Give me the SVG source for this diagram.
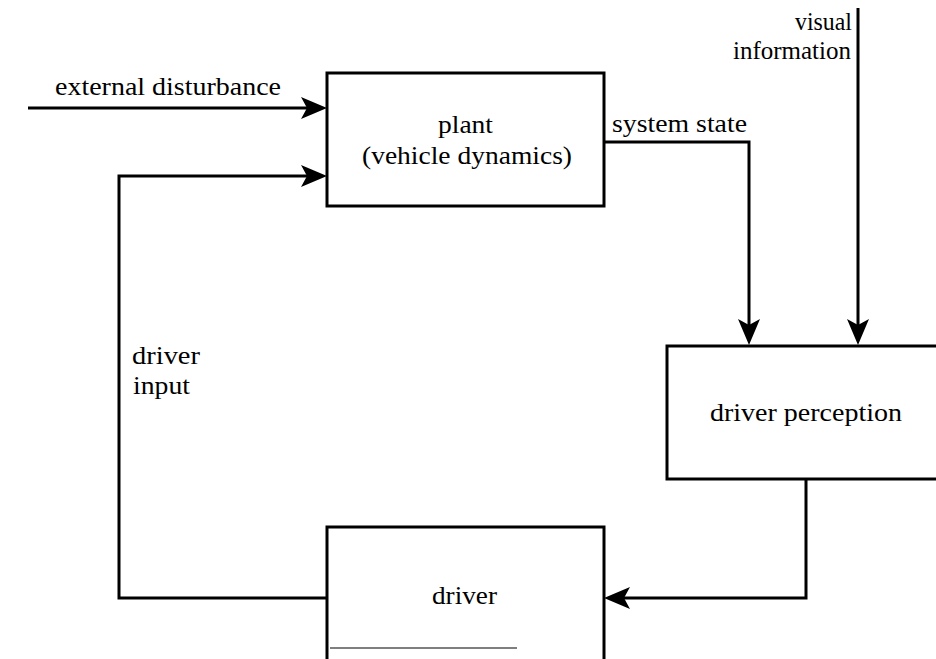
<svg xmlns="http://www.w3.org/2000/svg" width="936" height="659" viewBox="0 0 936 659">
<style>
  .box { fill: #fff; stroke: #000; stroke-width: 3; }
  .conn { fill: none; stroke: #000; stroke-width: 3; stroke-linejoin: miter; }
  .lbl { font-family: "Liberation Serif", "Times New Roman", serif; font-size: 25px; fill: #000; }
</style>
<defs>
  <marker id="arr" markerUnits="userSpaceOnUse" markerWidth="28" markerHeight="24" refX="13" refY="11" orient="auto" overflow="visible">
    <path d="M0,0 L26,11 L0,22 L6,11 Z" fill="#000"/>
  </marker>
</defs>
<rect width="936" height="659" fill="#fff"/>

<g id="connectors">
  <path class="conn" d="M28,108 H314" marker-end="url(#arr)"/>
  <path class="conn" d="M327,598 H119 V176 H314" marker-end="url(#arr)"/>
  <path class="conn" d="M604,142 H749 V332" marker-end="url(#arr)"/>
  <path class="conn" d="M858,8 V332" marker-end="url(#arr)"/>
  <path class="conn" d="M806,479 V598 H617" marker-end="url(#arr)"/>
</g>

<g id="plant">
  <rect class="box" x="327" y="73" width="277" height="133"/>
  <text class="lbl" x="465.5" y="133" text-anchor="middle" textLength="55" lengthAdjust="spacingAndGlyphs">plant</text>
  <text class="lbl" x="467" y="164" text-anchor="middle" textLength="210" lengthAdjust="spacingAndGlyphs">(vehicle dynamics)</text>
</g>

<g id="driver-perception">
  <rect class="box" x="667" y="346" width="290" height="133"/>
  <text class="lbl" x="710" y="421" textLength="192" lengthAdjust="spacingAndGlyphs">driver perception</text>
</g>

<g id="driver">
  <rect class="box" x="327" y="527" width="277" height="140"/>
  <line x1="330" y1="648" x2="517" y2="648" stroke="#555" stroke-width="1.5"/>
  <text class="lbl" x="464.5" y="604" text-anchor="middle" textLength="65" lengthAdjust="spacingAndGlyphs">driver</text>
</g>

<g id="labels">
  <text class="lbl" x="55" y="95" textLength="226" lengthAdjust="spacingAndGlyphs">external disturbance</text>
  <text class="lbl" x="612" y="132" textLength="135" lengthAdjust="spacingAndGlyphs">system state</text>
  <text class="lbl" x="852" y="30" text-anchor="end" textLength="57" lengthAdjust="spacingAndGlyphs">visual</text>
  <text class="lbl" x="851" y="59" text-anchor="end" textLength="118" lengthAdjust="spacingAndGlyphs">information</text>
  <text class="lbl" x="132" y="364" textLength="68" lengthAdjust="spacingAndGlyphs">driver</text>
  <text class="lbl" x="133" y="394" textLength="57" lengthAdjust="spacingAndGlyphs">input</text>
</g>
</svg>
